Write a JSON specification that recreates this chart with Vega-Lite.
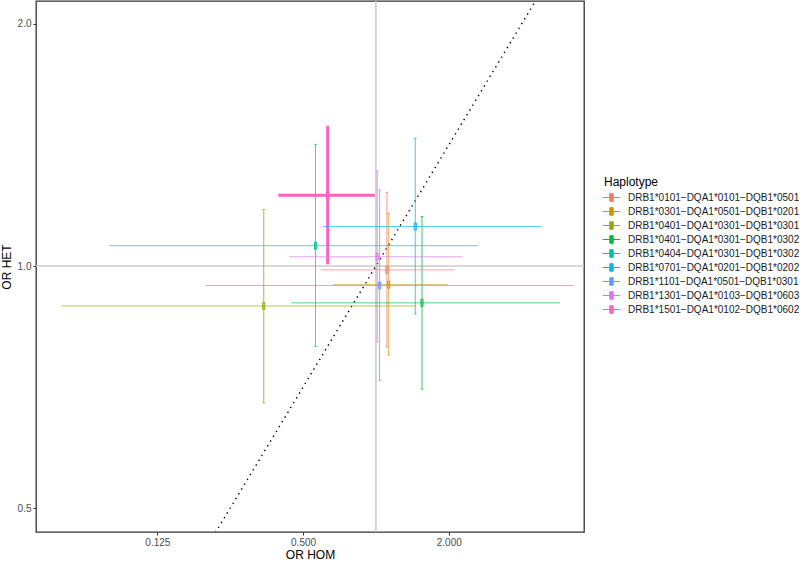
{
  "$schema": "https://vega.github.io/schema/vega-lite/v6.json",
  "width": 548,
  "height": 531,
  "autosize": "none",
  "padding": {"left": 36, "top": 1, "right": 216, "bottom": 29},
  "background": "white",
  "config": {
    "view": {"stroke": "#333333", "strokeWidth": 1.3},
    "axis": {
      "domain": false, "grid": false, "tickColor": "#333333", "tickSize": 3, "tickWidth": 1,
      "labelColor": "#4d4d4d", "labelFontSize": 10, "labelFont": "Liberation Sans", "labelPadding": 2,
      "titleFont": "Liberation Sans", "titleFontSize": 12, "titleFontWeight": "normal", "titleColor": "#000000"
    },
    "legend": {
      "titleFont": "Liberation Sans", "titleFontSize": 12, "titleFontWeight": "normal", "titleColor": "#000000",
      "labelFont": "Liberation Sans", "labelFontSize": 10, "labelColor": "#1a1a1a", "labelLimit": 400
    }
  },
  "datasets": {
    "haps": [
      {"hap": "DRB1*0101−DQA1*0101−DQB1*0501", "or_hom": 1.11, "hom_lo": 0.59, "hom_hi": 2.12, "or_het": 0.989, "het_lo": 0.793, "het_hi": 1.235},
      {"hap": "DRB1*0301−DQA1*0501−DQB1*0201", "or_hom": 1.13, "hom_lo": 0.666, "hom_hi": 1.98, "or_het": 0.948, "het_lo": 0.775, "het_hi": 1.163},
      {"hap": "DRB1*0401−DQA1*0301−DQB1*0301", "or_hom": 0.344, "hom_lo": 0.05, "hom_hi": 1.47, "or_het": 0.892, "het_lo": 0.676, "het_hi": 1.176},
      {"hap": "DRB1*0401−DQA1*0301−DQB1*0302", "or_hom": 1.55, "hom_lo": 0.448, "hom_hi": 5.76, "or_het": 0.9, "het_lo": 0.703, "het_hi": 1.152},
      {"hap": "DRB1*0404−DQA1*0301−DQB1*0302", "or_hom": 0.563, "hom_lo": 0.079, "hom_hi": 2.65, "or_het": 1.06, "het_lo": 0.794, "het_hi": 1.417},
      {"hap": "DRB1*0701−DQA1*0201−DQB1*0202", "or_hom": 1.454, "hom_lo": 0.606, "hom_hi": 4.81, "or_het": 1.12, "het_lo": 0.872, "het_hi": 1.442},
      {"hap": "DRB1*1101−DQA1*0501−DQB1*0301", "or_hom": 1.036, "hom_lo": 0.197, "hom_hi": 6.58, "or_het": 0.946, "het_lo": 0.721, "het_hi": 1.243},
      {"hap": "DRB1*1301−DQA1*0103−DQB1*0603", "or_hom": 1.012, "hom_lo": 0.438, "hom_hi": 2.28, "or_het": 1.027, "het_lo": 0.805, "het_hi": 1.313},
      {"hap": "DRB1*1501−DQA1*0102−DQB1*0602", "or_hom": 0.632, "hom_lo": 0.395, "hom_hi": 0.99, "or_het": 1.225, "het_lo": 1.006, "het_hi": 1.493}
    ],
    "diag": [
      {"hom": 0.2, "het": 0.4472},
      {"hom": 5.0, "het": 2.2361}
    ],
    "ref": [{"one": 1}]
  },
  "layer": [
    {
      "data": {"name": "ref"},
      "mark": {"type": "rule", "color": "#cccccc", "strokeWidth": 1.6},
      "encoding": {"x": {"field": "one", "type": "quantitative"}}
    },
    {
      "data": {"name": "ref"},
      "mark": {"type": "rule", "color": "#cccccc", "strokeWidth": 1.6},
      "encoding": {"y": {"field": "one", "type": "quantitative"}}
    },
    {
      "data": {"name": "diag"},
      "mark": {"type": "line", "color": "#000000", "strokeWidth": 1.4, "strokeDash": [1.4, 4.2], "clip": true},
      "encoding": {
        "x": {"field": "hom", "type": "quantitative"},
        "y": {"field": "het", "type": "quantitative"}
      }
    },
    {
      "data": {"name": "haps"},
      "mark": {"type": "rule", "clip": true},
      "encoding": {
        "x": {"field": "or_hom", "type": "quantitative"},
        "y": {"field": "het_lo", "type": "quantitative"},
        "y2": {"field": "het_hi"},
        "color": {"field": "hap", "type": "nominal"},
        "strokeWidth": {"condition": {"test": "datum.hap == 'DRB1*1501−DQA1*0102−DQB1*0602'", "value": 3}, "value": 1},
        "opacity": {"condition": {"test": "datum.hap == 'DRB1*1501−DQA1*0102−DQB1*0602'", "value": 1}, "value": 0.75}
      }
    },
    {
      "data": {"name": "haps"},
      "mark": {"type": "rule", "clip": true},
      "encoding": {
        "x": {"field": "hom_lo", "type": "quantitative"},
        "x2": {"field": "hom_hi"},
        "y": {"field": "or_het", "type": "quantitative"},
        "color": {"field": "hap", "type": "nominal"},
        "strokeWidth": {"condition": {"test": "datum.hap == 'DRB1*1501−DQA1*0102−DQB1*0602'", "value": 3}, "value": 1},
        "opacity": {"condition": {"test": "datum.hap == 'DRB1*1501−DQA1*0102−DQB1*0602'", "value": 1}, "value": 0.65}
      }
    },
    {
      "data": {"name": "haps"},
      "mark": {"type": "tick", "orient": "horizontal", "size": 3, "thickness": 1},
      "encoding": {
        "x": {"field": "or_hom", "type": "quantitative"},
        "y": {"field": "het_lo", "type": "quantitative"},
        "color": {"field": "hap", "type": "nominal"}
      }
    },
    {
      "data": {"name": "haps"},
      "mark": {"type": "tick", "orient": "horizontal", "size": 3, "thickness": 1},
      "encoding": {
        "x": {"field": "or_hom", "type": "quantitative"},
        "y": {"field": "het_hi", "type": "quantitative"},
        "color": {"field": "hap", "type": "nominal"}
      }
    },
    {
      "data": {"name": "haps"},
      "mark": {"type": "point", "shape": "M-0.3,-1H0.3V1H-0.3Z", "size": 49, "filled": false, "fill": "white", "fillOpacity": 0, "strokeWidth": 1, "opacity": 1},
      "encoding": {
        "x": {
          "field": "or_hom", "type": "quantitative", "title": "OR HOM",
          "scale": {"type": "log", "domain": [0.0394, 7.24], "nice": false},
          "axis": {"values": [0.125, 0.5, 2], "format": ".3f", "titlePadding": 2}
        },
        "y": {
          "field": "or_het", "type": "quantitative", "title": "OR HET",
          "scale": {"type": "log", "domain": [0.467, 2.136], "nice": false},
          "axis": {"values": [0.5, 1, 2], "format": ".1f", "titlePadding": 4}
        },
        "color": {
          "field": "hap", "type": "nominal", "title": "Haplotype",
          "scale": {
            "domain": ["DRB1*0101−DQA1*0101−DQB1*0501", "DRB1*0301−DQA1*0501−DQB1*0201", "DRB1*0401−DQA1*0301−DQB1*0301", "DRB1*0401−DQA1*0301−DQB1*0302", "DRB1*0404−DQA1*0301−DQB1*0302", "DRB1*0701−DQA1*0201−DQB1*0202", "DRB1*1101−DQA1*0501−DQB1*0301", "DRB1*1301−DQA1*0103−DQB1*0603", "DRB1*1501−DQA1*0102−DQB1*0602"],
            "range": ["#F8766D", "#D39200", "#93AA00", "#00BA38", "#00C19F", "#00B9E3", "#619CFF", "#DB72FB", "#FF61C3"]
          },
          "legend": {
            "orient": "none", "legendX": 568, "legendY": 176,
            "symbolType": "M-1.3,0H-0.25M0.25,0H1.3M-0.25,-0.55H0.25V0.55H-0.25Z",
            "symbolSize": 185, "symbolStrokeWidth": 1, "symbolOpacity": 1, "symbolFillColor": "transparent",
            "rowPadding": 0, "titlePadding": 1, "labelOffset": 9
          }
        }
      }
    }
  ]
}
